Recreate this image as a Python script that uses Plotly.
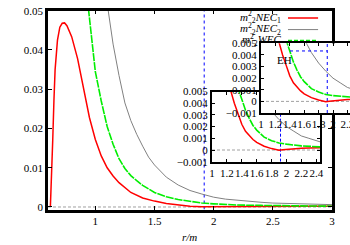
import plotly.graph_objects as go

# ---------------- data ----------------
# main panel
r_nec1 = [0.62, 0.63, 0.64, 0.65, 0.66, 0.68, 0.70, 0.72, 0.74, 0.76, 0.78, 0.80, 0.85, 0.90,
          0.95, 1.00, 1.05, 1.10, 1.15, 1.20, 1.30, 1.40, 1.50, 1.60, 1.70, 1.80, 1.90, 2.00,
          2.20, 2.40, 2.60, 2.80, 3.00]
nec1 = [0.0, 0.007, 0.017, 0.027, 0.035, 0.0425, 0.0458, 0.0468, 0.0469, 0.0462, 0.0450, 0.0434,
        0.0378, 0.0300, 0.0228, 0.0172, 0.0130, 0.0100, 0.0079, 0.0062, 0.0037, 0.0023, 0.0015,
        0.0009, 0.0005, 0.0002, 0.00003, 0.00006, 0.00015, 0.0002, 0.0002, 0.00018, 0.00016]

r_nec2 = [1.08, 1.10, 1.15, 1.20, 1.25, 1.30, 1.35, 1.40, 1.45, 1.50, 1.60, 1.70, 1.80, 1.90,
          2.00, 2.10, 2.20, 2.30, 2.40, 2.50, 2.60, 2.80, 3.00]
nec2 = [0.056, 0.0515, 0.0415, 0.0335, 0.0265, 0.0220, 0.0185, 0.0155, 0.0127, 0.0107, 0.0076,
        0.0056, 0.0042, 0.0033, 0.0025, 0.0020, 0.0017, 0.0014, 0.0012, 0.0010, 0.0009, 0.0007,
        0.0006]

r_wec = [0.90, 0.94, 0.97, 1.00, 1.05, 1.10, 1.15, 1.20, 1.25, 1.30, 1.35, 1.40, 1.50, 1.60,
         1.70, 1.80, 1.90, 2.00, 2.20, 2.40, 2.60, 2.80, 3.00]
wec = [0.062, 0.0506, 0.0415, 0.0345, 0.0270, 0.0205, 0.0160, 0.0123, 0.0098, 0.0080, 0.0067,
       0.0055, 0.0037, 0.0026, 0.0019, 0.0014, 0.0010, 0.0008, 0.0005, 0.0004, 0.0003, 0.00025,
       0.0002]

# inset panels (zoom near the horizon)
ins_r_nec1 = [1.20, 1.25, 1.30, 1.35, 1.40, 1.45, 1.50, 1.55, 1.60, 1.70, 1.80, 1.90, 1.95,
              2.00, 2.10, 2.20, 2.30, 2.45]
ins_nec1 = [0.0062, 0.0050, 0.0040, 0.0031, 0.0022, 0.0016, 0.0012, 0.0009, 0.00065, 0.00032,
            0.00012, -0.00002, 0.00002, 0.00006, 0.00012, 0.00016, 0.00018, 0.0002]
ins_r_wec = [1.30, 1.35, 1.37, 1.40, 1.45, 1.50, 1.55, 1.60, 1.70, 1.80, 1.90, 2.00, 2.20, 2.45]
ins_wec = [0.0062, 0.0053, 0.0050, 0.0043, 0.0034, 0.0027, 0.0021, 0.0017, 0.0011, 0.0008,
           0.0006, 0.0005, 0.00035, 0.00027]
ins_r_nec2 = [1.60, 1.64, 1.70, 1.80, 1.90, 2.00, 2.10, 2.20, 2.30, 2.45]
ins_nec2 = [0.0055, 0.0049, 0.0042, 0.0033, 0.0026, 0.0020, 0.0016, 0.0012, 0.0010, 0.0007]

eh_r = 1.92   # event horizon

legend_labels = ["<i>m</i><sup>2</sup><sub>2</sub><i>NEC</i><sub>1</sub>",
                 "<i>m</i><sup>2</sup><sub>2</sub><i>NEC</i><sub>2</sub>",
                 "<i>m</i><sup>2</sup><sub>2</sub><i>WEC</i>"]
x_title = "<i>r/m</i>"

main_x_range = [0.6, 3.0]
main_y_range = [-0.00064, 0.05001]
ins1_x_range = [1.0, 2.45]
ins2_x_range = [1.0, 2.236]
ins_y_range = [-0.001, 0.005001]

# ---------------- layout helpers ----------------
W, H = 350, 245
def fx(p):
    return p / W
def fy(p):
    return 1 - p / H

FONT = "Liberation Serif"
RED, GRAY, GREEN, BLUE, ZGRAY = "#ff0000", "#808080", "#00ee00", "#0000ff", "#a0a0a0"

fig = go.Figure()

def add_panel(xa, ya, xr, yr, rs, blue_dash):
    fig.add_trace(go.Scatter(x=xr, y=[0, 0], mode="lines", xaxis=xa, yaxis=ya,
                             line=dict(color=ZGRAY, width=1, dash="3px,2px"), hoverinfo="skip"))
    fig.add_trace(go.Scatter(x=[eh_r, eh_r], y=yr, mode="lines", xaxis=xa, yaxis=ya,
                             line=dict(color=BLUE, width=1, dash=blue_dash), hoverinfo="skip"))
    (r1, v1), (r2, v2), (r3, v3) = rs
    fig.add_trace(go.Scatter(x=r1, y=v1, mode="lines", xaxis=xa, yaxis=ya,
                             line=dict(color=RED, width=1.5)))
    fig.add_trace(go.Scatter(x=r2, y=v2, mode="lines", xaxis=xa, yaxis=ya,
                             line=dict(color=GRAY, width=1)))
    fig.add_trace(go.Scatter(x=r3, y=v3, mode="lines", xaxis=xa, yaxis=ya,
                             line=dict(color=GREEN, width=1.6, dash="8px,1px")))

add_panel("x", "y", main_x_range, main_y_range,
          [(r_nec1, nec1), (r_nec2, nec2), (r_wec, wec)], "dot")
add_panel("x2", "y2", ins1_x_range, ins_y_range,
          [(ins_r_nec1, ins_nec1), (ins_r_nec2, ins_nec2), (ins_r_wec, ins_wec)], "3px,2px")
add_panel("x3", "y3", ins2_x_range, ins_y_range,
          [(ins_r_nec1, ins_nec1), (ins_r_nec2, ins_nec2), (ins_r_wec, ins_wec)], "dot")

# main legend (drawn inside main panel so the insets can cover it)
leg_y = [0.963, 0.905, 0.850]
fig.add_trace(go.Scatter(x=[0.82] * 3, y=leg_y, mode="text", text=legend_labels,
                         textposition="middle left", xaxis="x4", yaxis="y4",
                         textfont=dict(family=FONT, size=11, color="black"),
                         cliponaxis=False, hoverinfo="skip"))
leg_styles = [dict(color=RED, width=1.5), dict(color=GRAY, width=1),
              dict(color=GREEN, width=1.6, dash="4px,2px")]
shapes = []
for yy, st in zip(leg_y, leg_styles):
    shapes.append(dict(type="line", xref="x4", yref="y4", x0=0.845, x1=0.951, y0=yy, y1=yy,
                       line=st, layer="below"))
# EH key in the upper inset
shapes.append(dict(type="line", xref="x3 domain", yref="y3 domain", x0=0.326, x1=0.742,
                   y0=0.89, y1=0.89, line=dict(color=BLUE, width=1, dash="dot"), layer="above"))

tickfont = dict(family=FONT, size=11, color="black")
def axis(domain, rng, dtick, lw, ticklen, mirror="ticks", **kw):
    d = dict(domain=domain, range=rng, dtick=dtick, showgrid=False, zeroline=False,
             showline=True, linecolor="black", linewidth=lw, mirror=mirror,
             ticks="inside", ticklen=ticklen, tickwidth=1, tickcolor="black",
             tickfont=tickfont, automargin=False, tickangle=0, ticklabeloverflow="allow")
    d.update(kw)
    return d

fig.update_layout(
    width=W, height=H, autosize=False,
    margin=dict(l=0, r=0, t=0, b=0),
    paper_bgcolor="white", plot_bgcolor="white",
    showlegend=False, hovermode=False,
    font=dict(family=FONT, size=11, color="black"),
    xaxis=axis([fx(48), fx(332)], main_x_range, 0.5, 2.5, 4, anchor="y", tick0=0),
    yaxis=axis([fy(209.5), fy(10.7)], main_y_range, 0.01, 2.5, 4, anchor="x", tick0=0),
    xaxis2=axis([fx(212), fx(320)], ins1_x_range, 0.2, 2, 3, anchor="y2", tick0=1),
    yaxis2=axis([fy(161.7), fy(91.5)], ins_y_range, 0.001, 2, 3, anchor="x2", tick0=0),
    xaxis3=axis([fx(261), 1.0], ins2_x_range, 0.2, 2, 3, anchor="y3", tick0=1),
    yaxis3=axis([fy(113), fy(43.3)], ins_y_range, 0.001, 2, 3, mirror=False, anchor="x3", tick0=0),
    xaxis4=dict(overlaying="x", anchor="y4", range=[0, 1], visible=False),
    yaxis4=dict(overlaying="y", anchor="x4", range=[0, 1], visible=False),
    shapes=shapes,
    annotations=[
        dict(text="EH", xref="x3 domain", yref="y3 domain", x=0.155, y=0.875,
             showarrow=False, font=dict(family=FONT, size=11, color="black")),
        dict(text=x_title, xref="paper", yref="paper", x=fx(190), y=fy(236.5),
             xanchor="center", yanchor="middle", showarrow=False,
             font=dict(family=FONT, size=11, color="black")),
    ],
)

# remove the default 8px page margin so the figure fills the window exactly
fig.write_html("out.html", config={"displayModeBar": False},
               post_script="document.body.style.margin='0px';")
